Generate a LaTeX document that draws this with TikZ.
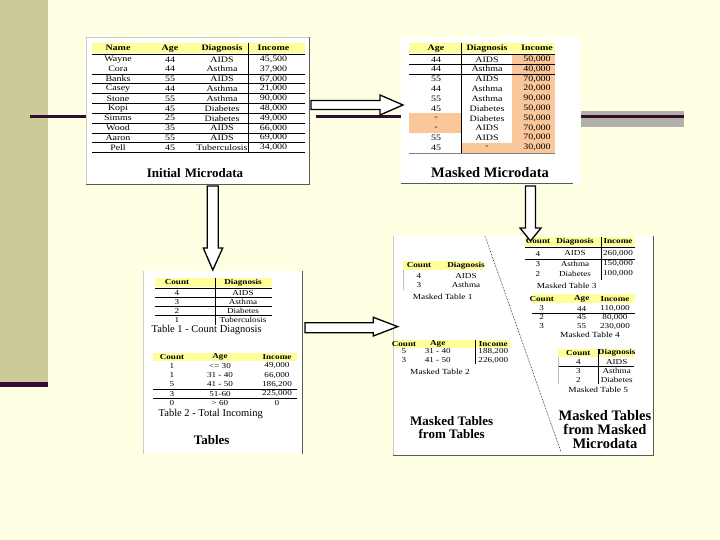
\documentclass[tikz,border=0pt]{standalone}
\usepackage{fontspec}
\setmainfont{Liberation Serif}
\newfontfamily\tabfont{Liberation Serif}[FakeStretch=1.2]
\definecolor{bgc}{HTML}{FFFFE3}
\definecolor{barc}{HTML}{CBCA98}
\definecolor{maroonc}{HTML}{330C2F}
\definecolor{bandc}{HTML}{B0B0A8}
\definecolor{hdryellow}{HTML}{FFFF99}
\definecolor{orangec}{HTML}{FAC79A}
\tikzset{
  tcell/.style={inner sep=0pt, font=\tabfont\fontsize{8.3}{9}\selectfont},
  thcell/.style={inner sep=0pt, font=\tabfont\bfseries\fontsize{8.3}{9}\selectfont},
  mcell/.style={inner sep=0pt, font=\tabfont\fontsize{7.6}{8}\selectfont},
  mhcell/.style={inner sep=0pt, font=\tabfont\bfseries\fontsize{7.6}{8}\selectfont},
  captxt/.style={inner sep=0pt, font=\fontsize{10.5}{12}\selectfont},
  smcap/.style={inner sep=0pt, font=\tabfont\fontsize{7.8}{9}\selectfont},
  ttl/.style={inner sep=0pt, font=\bfseries\fontsize{13}{15}\selectfont},
  ttlb/.style={inner sep=0pt, font=\bfseries\fontsize{14.5}{16}\selectfont},
  hdrfill/.style={fill=hdryellow},
  hrule/.style={line width=0.8pt},
  lrule/.style={line width=0.45pt},
  blockarr/.style={fill=white, draw=black, line width=1.3pt, line join=miter},
  panel/.style={fill=white},
  shade/.style={draw=black!65, line width=1pt},
  lshade/.style={draw=black!20, line width=0.6pt},
  decoline/.style={draw=maroonc, line width=3pt},
}
\begin{document}
\begin{tikzpicture}[x=1pt,y=-1pt]
\useasboundingbox (0,0) rectangle (720,540);
% background
\fill[bgc] (0,0) rectangle (720,540);
\fill[barc] (0,0) rectangle (48.3,382);
\fill[maroonc] (0,382) rectangle (48.3,386.5);
% decorative lines
\draw[decoline] (30,117) -- (86,117);
\draw[decoline] (316,117) -- (401,117);
\fill[bandc] (581,111) rectangle (684,127);
\draw[decoline] (581,117) -- (684,117);

% ===== panels =====
\fill[panel] (86,37) rectangle (309,185);
\draw[lshade] (86,185) -- (86,37) -- (309,37);
\draw[shade] (86,185) -- (309,185) -- (309,37);

\fill[panel] (401,37) rectangle (580,184);
\draw[shade] (401,184) -- (573,184);

\fill[panel] (143,271) rectangle (302,454);
\draw[lshade] (143,454) -- (143,271);
\draw[shade] (302,271) -- (302,454);

\fill[panel] (393,236) rectangle (653,455.5);
\draw[lshade] (393,455.5) -- (393,236);
\draw[shade] (393,455.5) -- (653,455.5) -- (653,236);
\draw[densely dotted, line width=0.6pt] (485,236) -- (561,452);

% ===== Initial microdata =====
\fill[hdrfill] (92,43) rectangle (305,53.5);
\foreach \t/\x in {Name/118, Age/170, Diagnosis/222, Income/273.5}
  \node[thcell] (ih\t) at (\x,48.3) {\t};
\foreach \na/\ag/\dg/\ic [count=\r] in {Wayne/44/AIDS/{45,500}, Cora/44/Asthma/{37,900}, Banks/55/AIDS/{67,000}, Casey/44/Asthma/{21,000}, Stone/55/Asthma/{90,000}, Kopi/45/Diabetes/{48,000}, Simms/25/Diabetes/{49,000}, Wood/35/AIDS/{66,000}, Aaron/55/AIDS/{69,000}, Pell/45/Tuberculosis/{34,000}}{
  \node[tcell] (ia\r) at (118,{59.3+9.82*(\r-1)}) {\na};
  \node[tcell] (ib\r) at (170,{59.3+9.82*(\r-1)}) {\ag};
  \node[tcell] (ic\r) at (222,{59.3+9.82*(\r-1)}) {\dg};
  \node[tcell] (id\r) at (273.5,{59.3+9.82*(\r-1)}) {\ic};
}
\draw[lrule] (92,54.4) -- (305,54.4);
\foreach \y in {74.0,83.9,93.7,103.5,113.3,123.1,133.0,142.8,152.6}
  \draw[hrule] (92,\y) -- (305,\y);
\draw[hrule] (248.5,43) -- (248.5,152.6);
\node[ttl] (tinit) at (195,173) {Initial\hspace{4pt}Microdata};

% ===== Masked microdata =====
\fill[hdrfill] (409,43) rectangle (555,53.5);
\fill[orangec] (512,54.4) rectangle (555,152.6);
\fill[orangec] (409,113.3) rectangle (461,133.0);
\fill[orangec] (461,142.8) rectangle (512,152.6);
\foreach \t/\x in {Age/436, Diagnosis/487, Income/537}
  \node[thcell] (mh\t) at (\x,48.3) {\t};
\foreach \ag/\dg/\ic [count=\r] in {44/AIDS/{50,000}, 44/Asthma/{40,000}, 55/AIDS/{70,000}, 44/Asthma/{20,000}, 55/Asthma/{90,000}, 45/Diabetes/{50,000}, -/Diabetes/{50,000}, -/AIDS/{70,000}, 55/AIDS/{70,000}, 45/-/{30,000}}{
  \node[tcell] (ma\r) at (436,{59.3+9.82*(\r-1)}) {\ag};
  \node[tcell] (mb\r) at (487,{59.3+9.82*(\r-1)}) {\dg};
  \node[tcell] (mc\r) at (537,{59.3+9.82*(\r-1)}) {\ic};
}
\draw[lrule] (409,54.4) -- (555,54.4);
\draw[hrule] (409,64.2) -- (555,64.2);
\draw[hrule] (409,74.0) -- (555,74.0);
\draw[lrule, black!50] (409,153.5) -- (555,153.5);
\draw[hrule] (461,43) -- (461,152.6);
\node[ttlb] (tmask) at (490,172.5) {Masked Microdata};

% ===== Tables =====
\fill[hdrfill] (155,278) rectangle (272,286.5);
\node[mhcell] (t1hc) at (177,282.3) {Count};
\node[mhcell] (t1hd) at (243,282.3) {Diagnosis};
\foreach \c/\dg [count=\r] in {4/AIDS, 3/Asthma, 2/Diabetes, 1/Tuberculosis}{
  \node[mcell] (t1a\r) at (177,{292.8+9.1*(\r-1)}) {\c};
  \node[mcell] (t1b\r) at (243,{292.8+9.1*(\r-1)}) {\dg};
}
\draw[lrule] (155,288.2) -- (272,288.2);
\foreach \y in {297.3,306.4,315.5}
  \draw[hrule] (155,\y) -- (272,\y);
\draw[lrule] (215,278) -- (215,324.6);
\node[captxt] (t1cap) at (206.7,330) {Table 1 - Count Diagnosis};

\fill[hdrfill] (153,353) rectangle (297,361.3);
\foreach \t/\x in {Count/172, Age/220, Income/277}
  \node[mhcell] (t2h\t) at (\x,357.2) {\t};
\foreach \c/\ag/\ic [count=\r] in {1/{<= 30}/{49,000}, 1/{31 - 40}/{66,000}, 5/{41 - 50}/{186,200}, 3/{51-60}/{225,000}, 0/{> 60}/0}{
  \node[mcell] (t2a\r) at (172,{365.8+9.3*(\r-1)}) {\c};
  \node[mcell] (t2b\r) at (220,{365.8+9.3*(\r-1)}) {\ag};
  \node[mcell] (t2c\r) at (277,{365.8+9.3*(\r-1)}) {\ic};
}
\draw[hrule] (153,389.1) -- (297,389.1);
\draw[lrule] (153,398.4) -- (297,398.4);
\node[captxt] (t2cap) at (210.7,414) {Table 2 - Total Incoming};
\node[ttl] (ttab) at (211.7,440) {Tables};

% ===== Masked tables from tables =====
\fill[hdrfill] (403,261) rectangle (483,270);
\node[mhcell] (q1hc) at (419,265.5) {Count};
\node[mhcell] (q1hd) at (466,265.5) {Diagnosis};
\node[mcell] (q1a1) at (419,276.3) {4};
\node[mcell] (q1b1) at (466,276.3) {AIDS};
\node[mcell] (q1a2) at (419,285) {3};
\node[mcell] (q1b2) at (466,285) {Asthma};
\draw[lrule, black!25] (403,270) -- (403,290);
\node[smcap] (q1cap) at (442.7,297) {Masked Table 1};

\fill[hdrfill] (394,340) rectangle (510,347.5);
\node[mhcell] (q2hc) at (404,343.8) {Count};
\node[mhcell] (q2ha) at (437.7,343.8) {Age};
\node[mhcell] (q2hi) at (493.3,343.8) {Income};
\node[mcell] (q2a1) at (404,351.5) {5};
\node[mcell] (q2b1) at (437.7,351.5) {31 - 40};
\node[mcell] (q2c1) at (493.3,351.5) {188,200};
\node[mcell] (q2a2) at (404,360.2) {3};
\node[mcell] (q2b2) at (437.7,360.2) {41 - 50};
\node[mcell] (q2c2) at (493.3,360.2) {226,000};
\draw[hrule] (475,340) -- (475,364);
\node[smcap] (q2cap) at (440,371.5) {Masked Table 2};
\node[ttl] (tmt1) at (451.7,420.7) {Masked Tables};
\node[ttl] (tmt2) at (451.7,434.2) {from Tables};

% ===== Masked tables from masked microdata =====
\fill[hdrfill] (525,237) rectangle (635,246);
\node[mhcell] (q3hc) at (538,241.5) {Count};
\node[mhcell] (q3hd) at (575,241.5) {Diagnosis};
\node[mhcell] (q3hi) at (618,241.5) {Income};
\foreach \c/\dg/\ic [count=\r] in {4/AIDS/{260,000}, 3/Asthma/{150,000}, 2/Diabetes/{100,000}}{
  \node[mcell] (q3a\r) at (538,{253.5+10.2*(\r-1)}) {\c};
  \node[mcell] (q3b\r) at (575,{253.5+10.2*(\r-1)}) {\dg};
  \node[mcell] (q3c\r) at (618,{253.5+10.2*(\r-1)}) {\ic};
}
\draw[lrule] (525,247.5) -- (635,247.5);
\draw[hrule] (525,259) -- (635,259);
\draw[hrule] (601,237) -- (601,280);
\node[smcap] (q3cap) at (566.7,286) {Masked Table 3};

\fill[hdrfill] (532,294) rectangle (635,303.3);
\node[mhcell] (q4hc) at (541.7,298.6) {Count};
\node[mhcell] (q4ha) at (581.7,298.6) {Age};
\node[mhcell] (q4hi) at (615,298.6) {Income};
\foreach \c/\ag/\ic [count=\r] in {3/44/{110,000}, 2/45/{80,000}, 3/55/{230,000}}{
  \node[mcell] (q4a\r) at (541.7,{308.5+8.9*(\r-1)}) {\c};
  \node[mcell] (q4b\r) at (581.7,{308.5+8.9*(\r-1)}) {\ag};
  \node[mcell] (q4c\r) at (615,{308.5+8.9*(\r-1)}) {\ic};
}
\draw[hrule] (532,313.5) -- (635,313.5);
\node[smcap] (q4cap) at (590,334.5) {Masked Table 4};

\fill[hdrfill] (558,349) rectangle (634,357.3);
\node[mhcell] (q5hc) at (578.3,353) {Count};
\node[mhcell] (q5hd) at (616.7,353) {Diagnosis};
\foreach \c/\dg [count=\r] in {4/AIDS, 3/Asthma, 2/Diabetes}{
  \node[mcell] (q5a\r) at (578.3,{361.7+9.2*(\r-1)}) {\c};
  \node[mcell] (q5b\r) at (616.7,{361.7+9.2*(\r-1)}) {\dg};
}
\draw[hrule] (558,366) -- (634,366);
\draw[hrule] (598.3,349) -- (598.3,384);
\draw[lrule, black!25] (558,357) -- (558,384);
\node[smcap] (q5cap) at (598.3,389.5) {Masked Table 5};
\node[ttlb] (tmm1) at (605,415.7) {Masked Tables};
\node[ttlb] (tmm2) at (605,429.3) {from Masked};
\node[ttlb] (tmm3) at (605,443.3) {Microdata};

% ===== block arrows =====
\draw[blockarr] (311,100.5) -- (380,100.5) -- (380,95) -- (403,105) -- (380,115) -- (380,109.5) -- (311,109.5) -- cycle;
\draw[blockarr] (207.3,186) -- (218.3,186) -- (218.3,248) -- (222.7,248) -- (212.8,270) -- (203.3,248) -- (207.3,248) -- cycle;
\draw[blockarr] (525.5,186) -- (535.5,186) -- (535.5,228) -- (541,228) -- (530.5,241) -- (520,228) -- (525.5,228) -- cycle;
\draw[blockarr] (305,322.7) -- (373.3,322.7) -- (373.3,317.3) -- (397.7,326.6) -- (373.3,336) -- (373.3,332.7) -- (305,332.7) -- cycle;
\end{tikzpicture}
\end{document}
